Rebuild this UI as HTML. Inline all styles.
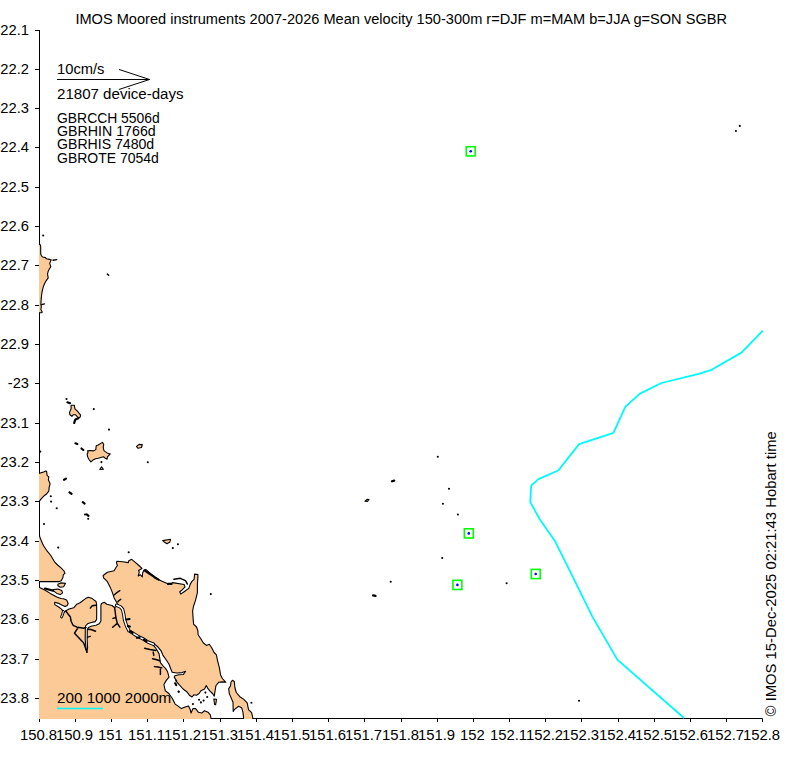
<!DOCTYPE html>
<html><head><meta charset="utf-8"><title>IMOS Moored instruments SGBR</title>
<style>
html,body{margin:0;padding:0;background:#fff;}
body{width:787px;height:760px;overflow:hidden;}
svg{display:block;}
text{font-family:"Liberation Sans", sans-serif;font-size:13.8px;fill:#000;}
</style></head><body>
<svg width="787" height="760" viewBox="0 0 787 760">
<rect width="787" height="760" fill="#fff"/>
<path d="M39.5 30 V718.5 H762.5" fill="none" stroke="#000" stroke-width="1"/>
<path d="M35 30.5H39.5M35 69.5H39.5M35 108.5H39.5M35 147.5H39.5M35 187.5H39.5M35 226.5H39.5M35 265.5H39.5M35 305.5H39.5M35 344.5H39.5M35 383.5H39.5M35 423.5H39.5M35 462.5H39.5M35 501.5H39.5M35 541.5H39.5M35 580.5H39.5M35 619.5H39.5M35 659.5H39.5M35 698.5H39.5M39.5 718.5V722M75.5 718.5V722M111.5 718.5V722M147.5 718.5V722M183.5 718.5V722M220.5 718.5V722M256.5 718.5V722M292.5 718.5V722M328.5 718.5V722M364.5 718.5V722M401.5 718.5V722M437.5 718.5V722M473.5 718.5V722M509.5 718.5V722M545.5 718.5V722M581.5 718.5V722M618.5 718.5V722M654.5 718.5V722M690.5 718.5V722M726.5 718.5V722M762.5 718.5V722" stroke="#000" stroke-width="1" fill="none"/>
<defs><clipPath id="pc"><rect x="39" y="0" width="760" height="719"/></clipPath></defs>
<g clip-path="url(#pc)" stroke="#000" stroke-width="1.1" stroke-linejoin="round">
<path d="M30.0 583.0 L39.6 587.5 L45.2 590.3 L50.2 593.4 L56.8 596.9 L61.0 598.5 L63.4 598.8 L66.6 599.9 L68.2 603.4 L67.0 605.8 L65.0 606.4 L61.8 605.0 L57.9 603.1 L54.7 602.3 L54.7 604.6 L58.7 607.0 L61.8 609.4 L63.0 611.7 L64.6 612.1 L65.8 610.9 L69.0 609.0 L73.7 607.8 L76.8 604.2 L80.0 602.7 L81.7 601.5 L85.5 598.6 L88.4 597.2 L92.2 598.6 L96.0 601.5 L96.6 604.0 L96.7 612.0 L96.6 619.5 L95.2 621.6 L90.5 622.7 L87.5 623.8 L85.5 626.0 L85.3 630.0 L85.2 640.0 L86.0 648.0 L86.8 652.5 L87.6 648.0 L87.2 640.0 L87.3 630.0 L88.4 627.4 L91.0 626.2 L96.0 625.2 L99.2 623.8 L100.9 621.0 L100.9 612.0 L100.9 605.0 L101.6 603.6 L104.2 602.2 L106.8 604.2 L112.1 605.5 L114.4 607.5 L116.5 606.5 L117.9 604.6 L114.1 597.9 L112.6 593.1 L110.3 587.4 L107.4 581.7 L103.6 577.9 L103.1 575.5 L107.4 572.2 L114.1 570.7 L115.5 568.3 L117.4 565.5 L116.4 562.6 L116.9 561.2 L122.6 561.7 L128.4 562.6 L128.8 560.7 L131.7 559.3 L135.0 562.1 L138.9 565.5 L142.0 568.4 L138.5 570.4 L139.3 572.2 L138.2 576.0 L140.3 574.7 L142.3 577.0 L142.6 573.3 L143.7 570.4 L146.0 569.6 L148.9 572.2 L152.9 575.6 L157.4 579.0 L162.0 581.3 L167.2 583.6 L170.0 584.2 L172.6 582.6 L184.1 584.5 L185.0 586.9 L181.7 590.3 L179.8 591.7 L180.7 594.1 L184.1 591.7 L188.8 588.4 L190.3 584.1 L191.7 581.7 L194.1 579.3 L194.6 574.1 L197.9 574.5 L197.9 577.4 L197.4 584.1 L197.4 592.6 L195.5 600.3 L193.6 606.0 L192.6 610.8 L193.1 618.4 L193.6 624.1 L196.5 627.0 L197.9 630.8 L198.1 634.7 L200.5 638.3 L203.4 643.0 L206.4 645.4 L209.3 644.2 L211.7 647.8 L214.1 652.5 L216.4 654.9 L217.6 660.8 L219.4 667.9 L220.6 675.0 L222.4 678.5 L225.8 682.3 L222.3 681.9 L218.7 682.3 L216.0 685.5 L215.2 689.9 L214.3 696.1 L212.5 693.5 L209.8 690.8 L207.6 688.1 L206.3 685.5 L204.5 689.0 L200.9 690.8 L199.1 693.5 L196.5 695.2 L193.8 694.8 L192.0 697.0 L189.4 695.2 L186.7 691.7 L183.1 689.0 L178.7 684.1 L175.6 680.6 L176.8 681.1 L174.2 677.1 L174.9 675.8 L178.8 674.8 L183.4 674.5 L185.6 671.3 L182.1 672.6 L176.8 673.0 L172.2 672.3 L170.9 669.2 L168.9 664.0 L166.3 660.0 L163.0 655.4 L161.1 650.8 L157.8 646.8 L153.8 643.6 L152.5 644.5 L155.8 648.2 L157.8 651.4 L159.1 654.1 L159.7 658.0 L160.4 662.6 L163.0 665.9 L165.7 668.6 L167.6 671.8 L169.0 677.1 L166.3 680.4 L163.9 684.5 L165.3 690.8 L168.9 693.5 L172.5 698.8 L175.1 704.1 L177.8 705.9 L181.4 708.6 L185.8 706.8 L188.5 705.9 L190.2 709.5 L191.1 713.0 L192.9 708.6 L195.6 708.6 L198.3 712.2 L201.8 713.0 L204.5 710.8 L208.0 712.2 L210.3 714.8 L211.2 719.0 L212.0 725.0 L30.0 725.0Z" fill="#FCCA96"/>
<path d="M30.0 244.3 L39.5 244.3 L40.4 245.0 L40.7 246.5 L40.7 254.0 L41.5 255.8 L42.6 257.0 L45.5 257.6 L46.4 258.8 L49.5 259.4 L51.2 259.8 L50.5 261.4 L49.7 263.4 L50.8 266.7 L49.5 268.7 L48.2 271.3 L47.5 273.9 L48.2 277.9 L46.8 279.9 L45.5 281.8 L44.2 284.5 L43.2 287.1 L42.2 291.1 L41.6 295.0 L41.2 298.9 L40.9 304.2 L41.3 306.8 L40.9 309.5 L42.2 312.1 L41.6 312.8 L30.0 312.8Z" fill="#FCCA96"/>
<path d="M30.0 473.3 L39.6 473.3 L41.6 472.6 L43.6 472.0 L45.5 471.1 L46.6 471.3 L47.1 475.3 L48.8 476.8 L48.4 479.9 L50.1 483.8 L49.2 487.1 L48.8 491.1 L46.8 493.7 L44.2 495.7 L41.6 498.3 L39.6 500.9 L30.0 500.9Z" fill="#FCCA96"/>
<path d="M30.0 533.4 L39.2 533.4 L39.7 536.6 L41.3 540.8 L43.4 545.5 L46.6 550.3 L50.8 555.5 L54.5 561.8 L57.6 565.0 L61.3 568.2 L63.9 570.8 L65.0 573.4 L63.4 574.5 L62.9 577.6 L61.3 580.8 L59.2 581.6 L39.7 581.6 L30.0 581.6Z" fill="#FCCA96"/>
<path d="M232.4 680.3 L234.3 681.5 L234.6 685.0 L235.0 688.0 L236.3 692.5 L239.8 696.7 L243.5 699.1 L247.2 702.8 L248.5 709.6 L251.6 712.7 L252.8 717.6 L253.0 725.0 L243.5 725.0 L243.5 717.0 L242.9 712.1 L241.7 707.8 L238.6 706.3 L234.3 709.6 L233.2 711.5 L233.0 702.2 L229.3 693.6 L228.7 688.6 L230.5 686.0 L231.0 682.0Z" fill="#FCCA96"/>
<path d="M71.1 405.3 L74.4 405.3 L74.4 406.1 L75.0 408.8 L77.4 411.2 L79.4 413.6 L80.6 415.1 L80.2 417.1 L78.6 417.9 L77.0 416.3 L75.4 414.7 L73.4 414.7 L71.9 416.3 L69.9 414.7 L69.5 412.4 L71.1 408.8Z" fill="#FCCA96"/>
<path d="M87.6 450.9 L90.3 450.5 L93.6 450.9 L95.8 449.6 L96.2 445.7 L98.2 445.0 L100.8 443.4 L102.4 442.4 L103.7 444.3 L103.2 447.6 L104.1 450.9 L107.1 452.9 L110.3 453.9 L108.7 455.5 L107.4 456.8 L107.1 459.2 L105.4 458.2 L103.4 456.8 L100.8 457.5 L98.2 458.2 L95.5 458.8 L92.9 460.1 L90.9 461.8 L89.0 459.5 L87.6 456.8 L87.2 454.2 L88.0 452.2Z" fill="#FCCA96"/>
<path d="M99.8 469.5 L101.5 466.8 L103.4 469.3Z" fill="#FCCA96"/>
<path d="M136.5 446.5 L139.0 444.4 L142.3 444.6 L141.5 447.5 L138.0 448.3Z" fill="#FCCA96"/>
<path d="M162.7 540.6 L170.5 539.2 L169.9 542.0 L167.0 543.7 L164.2 542.0Z" fill="#FCCA96"/>
<path d="M57.9 584.3 L60.7 582.9 L65.5 583.3 L63.6 586.7 L60.3 587.2 L57.9 585.7Z" fill="#FCCA96"/>
<path d="M53.1 589.5 L57.9 589.1 L61.7 590.5 L62.6 592.9 L60.3 594.6 L56.9 593.4 L54.1 591.4Z" fill="#FCCA96"/>
<path d="M213.8 699.0 L216.5 699.3 L215.6 704.8 L214.6 704.5Z" fill="#FCCA96"/>
<path d="M365.0 501.2 L367.0 499.3 L369.0 499.6 L367.5 501.4Z" fill="#FCCA96"/>
<path d="M116.6 605.2 L120.5 607.0 L122.5 609.2 L123.8 614.4 L124.5 619.7 L126.4 625.6 L129.1 630.9 L132.4 632.9 L137.6 636.2 L142.9 638.8 L148.2 642.1 L153.5 644.2" fill="none" stroke="#000" stroke-width="3.4" stroke-linecap="round"/>
<path d="M61.5 617.0 L62.5 614.5 L63.4 611.5" fill="none" stroke="#000" stroke-width="2.8" stroke-linecap="round"/>
<path d="M116.6 605.2 L120.5 607.0 L122.5 609.2 L123.8 614.4 L124.5 619.7 L126.4 625.6 L129.1 630.9 L132.4 632.9 L137.6 636.2 L142.9 638.8 L148.2 642.1 L153.5 644.2" fill="none" stroke="#fff" stroke-width="1.5" stroke-linecap="round"/>
<path d="M61.5 617.0 L62.5 614.5 L63.4 611.5" fill="none" stroke="#fff" stroke-width="1.0" stroke-linecap="round"/>
<path d="M114.1 595.0 L117.0 592.5 L119.8 590.7M117.9 601.7 L119.0 600.5 L120.7 599.3M90.3 608.1 L92.2 605.7 L96.0 605.3M65.8 610.9 L67.8 613.7 L70.3 616.7 L71.2 621.5 L73.1 625.3 L77.0 627.2 L80.8 627.7 L83.6 628.2 L86.0 627.5M78.4 627.2 L74.5 633.2 L79.0 638.0 L83.7 643.0 L87.0 652.2M87.6 629.2 L91.0 629.5 L95.5 631.2M87.6 637.1 L90.3 636.4M112.6 627.2 L117.3 623.4 L119.9 627.2M114.6 607.5 L115.1 611.2 L115.9 617.5 L117.3 623.4M115.9 617.5 L113.0 618.4M144.6 648.3 L150.0 649.5 L155.8 650.5M153.2 652.1 L153.8 655.4M152.5 658.7 L156.0 659.5 L159.7 660.7M154.5 666.6 L158.0 667.0 L161.7 667.9M160.4 669.2 L160.4 674.5M174.0 579.3 L180.3 578.3 L185.5 580.7 L187.4 584.1" fill="none" stroke-width="1.45" stroke-linecap="round"/>
<path d="M126.5 619.5 L129.5 619.0M128.0 626.2 L129.8 626.5M130.0 631.2 L132.5 632.8M137.0 637.8 L139.5 637.2M144.0 639.7 L146.5 641.5M67.5 402.3 L70.0 403.2M78.2 418.2 L75.4 419.5 L74.6 421.5 L74.2 423.0M175.2 683.3 L176.2 685.0M144.5 570.4 L150.0 574.0M150.5 574.4 L153.5 576.3M154.5 577.2 L158.5 579.6M168.0 583.9 L171.5 583.9M75.5 443.3 L77.3 444.1M81.5 448.5 L83.3 450.0M64.0 479.8 L66.0 478.6M69.5 492.3 L71.5 493.8M82.8 502.2 L84.6 503.6M392.0 481.3 L394.2 480.6M373.0 595.4 L375.5 595.8M45.0 588.5 L53.0 590.6M86.7 514.3 L88.5 515.8" fill="none" stroke-width="2.2" stroke-linecap="round"/>
<path d="M53.0 260.2 L56.8 259.6M41.5 304.6 L44.5 303.9M107.3 274.1 L108.7 275.3M69.5 492.3 L71.5 493.8" fill="none" stroke-width="1.4" stroke-linecap="round"/>
<g fill="#000" stroke="none"><circle cx="178.7" cy="691.7" r="1.05"/><circle cx="192.9" cy="704.1" r="1.05"/><circle cx="199.1" cy="699.7" r="1.05"/><circle cx="200.9" cy="702.4" r="1.05"/><circle cx="203.6" cy="700.6" r="1.05"/><circle cx="205.4" cy="692.6" r="1.05"/><circle cx="207.2" cy="697.0" r="1.05"/><circle cx="43.2" cy="235.5" r="1.05"/><circle cx="66.5" cy="399" r="1.05"/><circle cx="93.8" cy="409.1" r="1.05"/><circle cx="109" cy="429.6" r="1.05"/><circle cx="147.8" cy="462.2" r="1.05"/><circle cx="101.4" cy="462.1" r="1.05"/><circle cx="40.3" cy="451.6" r="1.05"/><circle cx="50.8" cy="496.3" r="1.05"/><circle cx="51.1" cy="501.6" r="1.05"/><circle cx="56.7" cy="508.3" r="1.05"/><circle cx="44" cy="524" r="1.05"/><circle cx="58.2" cy="547.6" r="1.05"/><circle cx="128.7" cy="552.3" r="1.05"/><circle cx="177.9" cy="544.3" r="1.05"/><circle cx="172.8" cy="548.1" r="1.05"/><circle cx="210.8" cy="594.1" r="1.05"/><circle cx="437.8" cy="456.8" r="1.05"/><circle cx="449" cy="488.8" r="1.05"/><circle cx="442.9" cy="503.8" r="1.05"/><circle cx="457.9" cy="514.5" r="1.05"/><circle cx="442.2" cy="558" r="1.05"/><circle cx="390.7" cy="581.7" r="1.05"/><circle cx="506.6" cy="583.3" r="1.05"/><circle cx="579" cy="700.7" r="1.05"/><circle cx="739.8" cy="125.9" r="1.05"/><circle cx="735.9" cy="131" r="1.05"/><circle cx="251.4" cy="702.8" r="1.05"/><circle cx="178.6" cy="691.6" r="1.05"/><circle cx="85" cy="514.5" r="1.05"/><circle cx="88.2" cy="518.7" r="1.05"/></g>
</g>
<path d="M762.8 330.7 L741.4 352.6 L710.7 370.2 L698.7 373.9 L685.4 377.1 L661.4 383.0 L640.0 393.6 L625.4 406.7 L613.4 432.9 L579.1 444.1 L558.2 470.5 L538.4 479.1 L531.2 485.7 L530.3 502.1 L539.7 519.2 L554.9 540.9 L564.1 559.3 L592.5 616.9 L617.3 659.6 L684.0 718.0" fill="none" stroke="#00FAFA" stroke-width="1.8" stroke-linejoin="round"/>
<rect x="466.25" y="146.70" width="8.9" height="9.2" fill="none" stroke="#00FF00" stroke-width="1.6"/><circle cx="470.7" cy="151.3" r="1.3" fill="#0000FF"/><rect x="464.35" y="528.80" width="8.9" height="9.2" fill="none" stroke="#00FF00" stroke-width="1.6"/><circle cx="468.8" cy="533.4" r="1.3" fill="#0000FF"/><rect x="452.95" y="580.30" width="8.9" height="9.2" fill="none" stroke="#00FF00" stroke-width="1.6"/><circle cx="457.4" cy="584.9" r="1.3" fill="#0000FF"/><rect x="531.25" y="569.40" width="8.9" height="9.2" fill="none" stroke="#00FF00" stroke-width="1.6"/><circle cx="535.7" cy="574.0" r="1.3" fill="#0000FF"/>
<path d="M57 79.5H149.5M118.9 69.4L149.5 79.5L118.9 89.5" fill="none" stroke="#000" stroke-width="1"/>
<path d="M57 708.5H103" stroke="#00FAFA" stroke-width="1.5"/>
<text x="29.00" y="34.90" text-anchor="end" textLength="33.61" lengthAdjust="spacingAndGlyphs">-22.1</text>
<text x="29.00" y="73.90" text-anchor="end" textLength="33.61" lengthAdjust="spacingAndGlyphs">-22.2</text>
<text x="29.00" y="112.90" text-anchor="end" textLength="33.61" lengthAdjust="spacingAndGlyphs">-22.3</text>
<text x="29.00" y="151.90" text-anchor="end" textLength="33.61" lengthAdjust="spacingAndGlyphs">-22.4</text>
<text x="29.00" y="191.90" text-anchor="end" textLength="33.61" lengthAdjust="spacingAndGlyphs">-22.5</text>
<text x="29.00" y="230.90" text-anchor="end" textLength="33.61" lengthAdjust="spacingAndGlyphs">-22.6</text>
<text x="29.00" y="269.90" text-anchor="end" textLength="33.61" lengthAdjust="spacingAndGlyphs">-22.7</text>
<text x="29.00" y="309.90" text-anchor="end" textLength="33.61" lengthAdjust="spacingAndGlyphs">-22.8</text>
<text x="29.00" y="348.90" text-anchor="end" textLength="33.61" lengthAdjust="spacingAndGlyphs">-22.9</text>
<text x="29.00" y="387.90" text-anchor="end" textLength="21.22" lengthAdjust="spacingAndGlyphs">-23</text>
<text x="29.00" y="427.90" text-anchor="end" textLength="33.61" lengthAdjust="spacingAndGlyphs">-23.1</text>
<text x="29.00" y="466.90" text-anchor="end" textLength="33.61" lengthAdjust="spacingAndGlyphs">-23.2</text>
<text x="29.00" y="505.90" text-anchor="end" textLength="33.61" lengthAdjust="spacingAndGlyphs">-23.3</text>
<text x="29.00" y="545.90" text-anchor="end" textLength="33.61" lengthAdjust="spacingAndGlyphs">-23.4</text>
<text x="29.00" y="584.90" text-anchor="end" textLength="33.61" lengthAdjust="spacingAndGlyphs">-23.5</text>
<text x="29.00" y="623.90" text-anchor="end" textLength="33.61" lengthAdjust="spacingAndGlyphs">-23.6</text>
<text x="29.00" y="663.90" text-anchor="end" textLength="33.61" lengthAdjust="spacingAndGlyphs">-23.7</text>
<text x="29.00" y="702.90" text-anchor="end" textLength="33.61" lengthAdjust="spacingAndGlyphs">-23.8</text>
<text x="38.50" y="740.00" text-anchor="middle" textLength="37.19" lengthAdjust="spacingAndGlyphs">150.8</text>
<text x="74.50" y="740.00" text-anchor="middle" textLength="37.19" lengthAdjust="spacingAndGlyphs">150.9</text>
<text x="110.50" y="740.00" text-anchor="middle" textLength="24.80" lengthAdjust="spacingAndGlyphs">151</text>
<text x="146.50" y="740.00" text-anchor="middle" textLength="37.19" lengthAdjust="spacingAndGlyphs">151.1</text>
<text x="182.50" y="740.00" text-anchor="middle" textLength="37.19" lengthAdjust="spacingAndGlyphs">151.2</text>
<text x="219.50" y="740.00" text-anchor="middle" textLength="37.19" lengthAdjust="spacingAndGlyphs">151.3</text>
<text x="255.50" y="740.00" text-anchor="middle" textLength="37.19" lengthAdjust="spacingAndGlyphs">151.4</text>
<text x="291.50" y="740.00" text-anchor="middle" textLength="37.19" lengthAdjust="spacingAndGlyphs">151.5</text>
<text x="327.50" y="740.00" text-anchor="middle" textLength="37.19" lengthAdjust="spacingAndGlyphs">151.6</text>
<text x="363.50" y="740.00" text-anchor="middle" textLength="37.19" lengthAdjust="spacingAndGlyphs">151.7</text>
<text x="400.50" y="740.00" text-anchor="middle" textLength="37.19" lengthAdjust="spacingAndGlyphs">151.8</text>
<text x="436.50" y="740.00" text-anchor="middle" textLength="37.19" lengthAdjust="spacingAndGlyphs">151.9</text>
<text x="472.50" y="740.00" text-anchor="middle" textLength="24.80" lengthAdjust="spacingAndGlyphs">152</text>
<text x="508.50" y="740.00" text-anchor="middle" textLength="37.19" lengthAdjust="spacingAndGlyphs">152.1</text>
<text x="544.50" y="740.00" text-anchor="middle" textLength="37.19" lengthAdjust="spacingAndGlyphs">152.2</text>
<text x="580.50" y="740.00" text-anchor="middle" textLength="37.19" lengthAdjust="spacingAndGlyphs">152.3</text>
<text x="617.50" y="740.00" text-anchor="middle" textLength="37.19" lengthAdjust="spacingAndGlyphs">152.4</text>
<text x="653.50" y="740.00" text-anchor="middle" textLength="37.19" lengthAdjust="spacingAndGlyphs">152.5</text>
<text x="689.50" y="740.00" text-anchor="middle" textLength="37.19" lengthAdjust="spacingAndGlyphs">152.6</text>
<text x="725.50" y="740.00" text-anchor="middle" textLength="37.19" lengthAdjust="spacingAndGlyphs">152.7</text>
<text x="761.50" y="740.00" text-anchor="middle" textLength="37.19" lengthAdjust="spacingAndGlyphs">152.8</text>
<text x="75.40" y="23.50" text-anchor="start" textLength="651.61" lengthAdjust="spacingAndGlyphs">IMOS Moored instruments 2007-2026 Mean velocity 150-300m r=DJF m=MAM b=JJA g=SON SGBR</text>
<text x="57.00" y="73.70" text-anchor="start" textLength="47.47" lengthAdjust="spacingAndGlyphs">10cm/s</text>
<text x="57.00" y="98.60" text-anchor="start" textLength="126.59" lengthAdjust="spacingAndGlyphs">21807 device-days</text>
<text x="57.00" y="122.50" text-anchor="start" textLength="102.78" lengthAdjust="spacingAndGlyphs">GBRCCH 5506d</text>
<text x="57.00" y="135.85" text-anchor="start" textLength="98.73" lengthAdjust="spacingAndGlyphs">GBRHIN 1766d</text>
<text x="57.00" y="149.20" text-anchor="start" textLength="97.23" lengthAdjust="spacingAndGlyphs">GBRHIS 7480d</text>
<text x="57.00" y="162.55" text-anchor="start" textLength="101.86" lengthAdjust="spacingAndGlyphs">GBROTE 7054d</text>
<text x="57.00" y="702.50" text-anchor="start" textLength="114.29" lengthAdjust="spacingAndGlyphs">200 1000 2000m</text>
<text transform="translate(776.3,716.4) rotate(-90)" x="0" y="0" textLength="285.19" lengthAdjust="spacingAndGlyphs">© IMOS 15-Dec-2025 02:21:43 Hobart time</text>
</svg>
</body></html>
